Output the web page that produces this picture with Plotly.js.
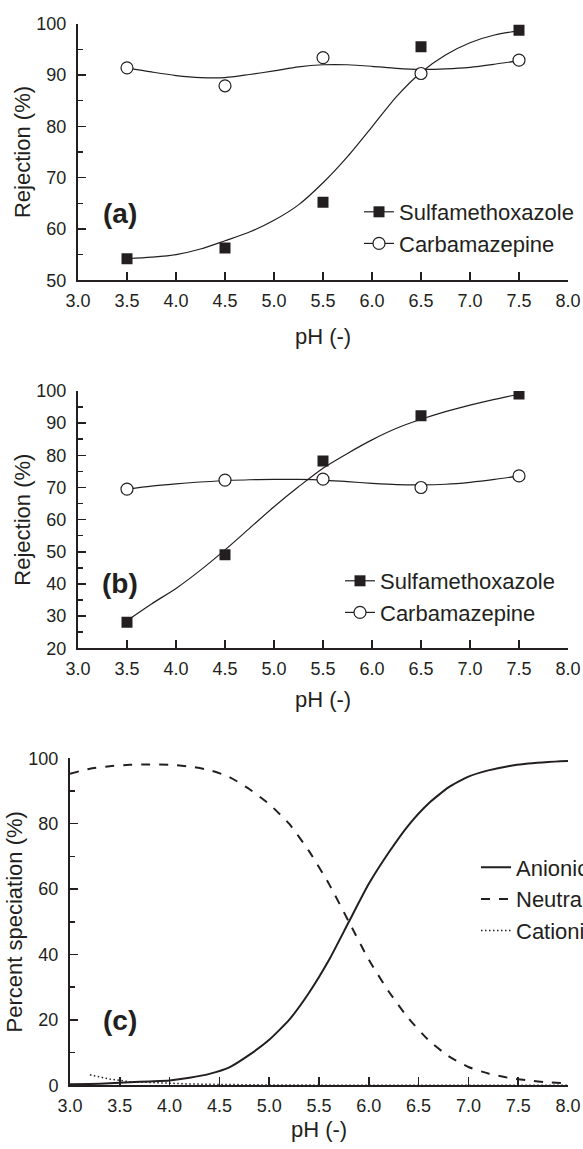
<!DOCTYPE html>
<html>
<head>
<meta charset="utf-8">
<script src="https://cdn.plot.ly/plotly-3.0.1.min.js"></script>
<style>
  html, body { margin: 0; padding: 0; overflow: hidden; background: #fff; }
  #chart { width: 640px; height: 1149px; }
</style>
</head>
<body>
<div id="chart"></div>
<script>
// ---------------- data ----------------
// Panel (a)
const phPoints = [3.5, 4.5, 5.5, 6.5, 7.5];
const smxA = [54.2, 56.3, 65.2, 95.5, 98.7];
const cbzA = [91.4, 87.9, 93.4, 90.3, 92.9];
const fitPh = [3.5, 3.75, 4.0, 4.25, 4.5, 4.75, 5.0, 5.25, 5.5, 5.75, 6.0, 6.25, 6.5, 6.75, 7.0, 7.25, 7.5];
const smxFitA = [54.2, 54.5, 55.0, 56.1, 57.7, 59.4, 61.7, 64.7, 69.0, 74.1, 79.9, 85.8, 90.5, 93.9, 96.3, 97.8, 98.6];
const cbzFitA = [91.4, 90.6, 89.9, 89.5, 89.5, 90.1, 90.8, 91.6, 92.0, 92.0, 91.7, 91.3, 91.1, 91.2, 91.5, 92.1, 92.8];
// Panel (b)
const smxB = [28.1, 49.1, 78.2, 92.3, 99.1];
const cbzB = [69.5, 72.3, 72.6, 70.0, 73.6];
const smxFitB = [28.6, 33.8, 38.6, 44.3, 50.6, 57.3, 64.0, 70.2, 76.0, 80.6, 84.8, 88.4, 91.2, 93.6, 95.6, 97.4, 99.0];
const cbzFitB = [69.5, 70.4, 71.1, 71.7, 72.1, 72.4, 72.5, 72.5, 72.3, 71.8, 71.3, 70.9, 70.8, 71.0, 71.6, 72.5, 73.6];
// Panel (c) speciation
const phSpec = [3.0, 3.2, 3.4, 3.6, 3.8, 4.0, 4.2, 4.4, 4.6, 4.8, 5.0, 5.2, 5.4, 5.6, 5.8, 6.0, 6.2, 6.4, 6.6, 6.8, 7.0, 7.2, 7.4, 7.6, 7.8, 8.0];
const anionic = [0.3, 0.4, 0.6, 0.9, 1.2, 1.5, 2.3, 3.5, 5.5, 9.3, 13.9, 20.0, 28.3, 38.3, 50.0, 61.6, 71.2, 79.6, 86.2, 91.1, 94.4, 96.3, 97.6, 98.4, 98.9, 99.2];
const neutral = [95.3, 96.8, 97.6, 98.0, 98.1, 98.0, 97.5, 96.4, 94.3, 90.6, 86.0, 80.0, 71.6, 61.6, 50.0, 38.4, 28.7, 20.4, 13.8, 8.9, 5.6, 3.6, 2.3, 1.5, 0.9, 0.6];
const phCation = [3.2, 3.3, 3.4, 3.6, 3.8, 4.0, 4.2, 4.4, 4.6, 4.8, 5.0, 5.5, 6.0, 6.5, 7.0, 7.5, 8.0];
const cationic = [3.2, 2.6, 1.9, 1.1, 0.8, 0.6, 0.4, 0.3, 0.2, 0.1, 0.1, 0.05, 0, 0, 0, 0, 0];

const xTickVals = [3.0, 3.5, 4.0, 4.5, 5.0, 5.5, 6.0, 6.5, 7.0, 7.5, 8.0];
const xTickText = ['3.0', '3.5', '4.0', '4.5', '5.0', '5.5', '6.0', '6.5', '7.0', '7.5', '8.0'];
const panelLabels = ['(a)', '(b)', '(c)'];
const names = { smx: 'Sulfamethoxazole', cbz: 'Carbamazepine', an: 'Anionic', ne: 'Neutral', ca: 'Cationic' };

// ---------------- style ----------------
const FONT = 'Liberation Sans, Arial, Helvetica, sans-serif';
const INK = '#231f20';
const W = 640, H = 1149;
const fx = p => p / W;
const fy = p => 1 - p / H;

const squareMarker = { symbol: 'square', size: 11, color: INK, line: { width: 0 } };
const circleMarker = { symbol: 'circle', size: 12, color: '#ffffff', line: { color: INK, width: 1.2 } };
const fitLine = { color: INK, width: 1.2, shape: 'spline', smoothing: 0.8 };

function panelTraces(ax, ay, leg, smx, cbz, smxFit, cbzFit) {
  return [
    { x: fitPh, y: smxFit, xaxis: ax, yaxis: ay, mode: 'lines', line: fitLine, showlegend: false, hoverinfo: 'skip' },
    { x: fitPh, y: cbzFit, xaxis: ax, yaxis: ay, mode: 'lines', line: fitLine, showlegend: false, hoverinfo: 'skip' },
    { x: phPoints, y: smx, xaxis: ax, yaxis: ay, mode: 'markers', marker: squareMarker, showlegend: false },
    { x: phPoints, y: cbz, xaxis: ax, yaxis: ay, mode: 'markers', marker: circleMarker, showlegend: false },
    // legend entries (line + marker symbol)
    { x: [null], y: [null], xaxis: ax, yaxis: ay, mode: 'lines+markers', name: names.smx, legend: leg,
      line: { color: INK, width: 1.2 }, marker: squareMarker },
    { x: [null], y: [null], xaxis: ax, yaxis: ay, mode: 'lines+markers', name: names.cbz, legend: leg,
      line: { color: INK, width: 1.2 }, marker: circleMarker }
  ];
}

const traces = [].concat(
  panelTraces('x', 'y', 'legend', smxA, cbzA, smxFitA, cbzFitA),
  panelTraces('x2', 'y2', 'legend2', smxB, cbzB, smxFitB, cbzFitB),
  [
    { x: phSpec, y: anionic, xaxis: 'x3', yaxis: 'y3', mode: 'lines', name: names.an, legend: 'legend3',
      line: { color: INK, width: 2, shape: 'spline', smoothing: 0.5 } },
    { x: phSpec, y: neutral, xaxis: 'x3', yaxis: 'y3', mode: 'lines', name: names.ne, legend: 'legend3',
      line: { color: INK, width: 2, dash: 'dash', shape: 'spline', smoothing: 0.5 } },
    { x: phCation, y: cationic, xaxis: 'x3', yaxis: 'y3', mode: 'lines', name: names.ca, legend: 'legend3',
      line: { color: INK, width: 1.5, dash: '1.5px,2.5px' } }
  ]
);

function xAxis(domain, anchor, titleStandoff) {
  return {
    domain: domain, anchor: anchor, range: [3, 8], autorange: false,
    tickmode: 'array', tickvals: xTickVals, ticktext: xTickText,
    ticks: 'inside', ticklen: 8, tickwidth: 1.5, tickcolor: INK,
    showline: true, linewidth: 2, linecolor: INK, showgrid: false, zeroline: false,
    tickfont: { family: FONT, size: 18, color: INK },
    ticklabelstandoff: 3,
    title: { text: 'pH (-)', font: { family: FONT, size: 22, color: INK }, standoff: titleStandoff },
    fixedrange: true
  };
}
function yAxis(domain, anchor, range, dtick, minorDtick, title) {
  return {
    domain: domain, anchor: anchor, range: range, autorange: false,
    dtick: dtick, tick0: 0,
    ticks: 'inside', ticklen: 8, tickwidth: 1.5, tickcolor: INK,
    minor: { dtick: minorDtick, ticks: 'inside', ticklen: 4.5, tickwidth: 1.5, tickcolor: INK, showgrid: false },
    showline: true, linewidth: 2, linecolor: INK, showgrid: false, zeroline: false,
    tickfont: { family: FONT, size: 18, color: INK },
    ticklabelstandoff: 6,
    title: { text: title, font: { family: FONT, size: 22, color: INK }, standoff: 0 },
    fixedrange: true
  };
}
function legendAt(xp, yp) {
  return {
    x: fx(xp), y: fy(yp), xanchor: 'left', yanchor: 'middle', xref: 'paper', yref: 'paper',
    bgcolor: 'rgba(0,0,0,0)', borderwidth: 0, tracegroupgap: 0,
    font: { family: FONT, size: 22, color: INK }
  };
}
function panelLabel(text, xp, yp) {
  return { text: text, xref: 'paper', yref: 'paper', x: fx(xp), y: fy(yp), showarrow: false,
    xanchor: 'center', yanchor: 'middle',
    font: { family: FONT, size: 28, color: INK, weight: 'bold' } };
}

const layout = {
  width: W, height: H,
  margin: { l: 0, r: 0, t: 0, b: 0, autoexpand: false },
  paper_bgcolor: '#ffffff', plot_bgcolor: '#ffffff',
  font: { family: FONT, color: INK },
  showlegend: true,
  xaxis: xAxis([fx(78), fx(568)], 'y', 19),
  yaxis: yAxis([fy(280.3), fy(23.7)], 'x', [50, 100], 10, 5, 'Rejection (%)'),
  xaxis2: xAxis([fx(78), fx(568)], 'y2', 14),
  yaxis2: yAxis([fy(648.3), fy(391)], 'x2', [20, 100], 10, 5, 'Rejection (%)'),
  xaxis3: xAxis([fx(70), fx(568)], 'y3', 7),
  yaxis3: yAxis([fy(1085.3), fy(758.3)], 'x3', [0, 100], 20, 10, 'Percent speciation (%)'),
  legend: legendAt(359, 228),
  legend2: legendAt(340, 597),
  legend3: legendAt(476, 899),
  annotations: [
    panelLabel(panelLabels[0], 120, 213),
    panelLabel(panelLabels[1], 120, 583),
    panelLabel(panelLabels[2], 120, 1020)
  ]
};

Plotly.newPlot('chart', traces, layout, { displayModeBar: false, staticPlot: true });
</script>
</body>
</html>
